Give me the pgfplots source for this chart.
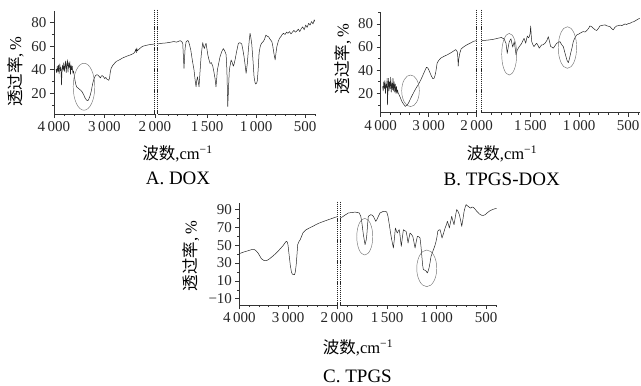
\documentclass[border=0pt]{standalone}
\usepackage{pgfplots}
\pgfplotsset{compat=1.18}
\usepackage{pgfplotstable}
\usepackage{fontspec}
\setmainfont{Liberation Serif}
\newfontfamily\cjk{Noto Sans CJK SC}

\pgfplotstableread{
w t
3960 40.5
3948 37.5
3935 43
3922 38
3910 44
3898 36.5
3885 45
3872 39
3862 42
3852 27
3842 38
3830 44
3818 39.5
3806 46
3794 38.5
3782 43
3770 47.5
3758 37.5
3746 44
3734 48.5
3722 38
3710 46
3698 42
3686 47
3674 36
3662 44
3650 40
3638 43
3626 37
3614 39
3600 35.5
3585 31
3565 27
3545 25
3523 24.4
3500 23.5
3470 22.5
3440 21
3410 18.5
3380 15.5
3350 14
3330 13.6
3310 15
3285 18
3261 22
3235 28
3210 32
3185 34.5
3160 35.7
3131 35.5
3100 34
3080 33
3065 34.5
3045 35
3020 34
2995 32.5
2975 33.5
2954 32
2930 31.5
2915 31
2900 33
2885 38
2870 41
2840 43.5
2800 45.5
2770 47
2700 48.5
2641 50
2560 51.5
2477 52.8
2420 54
2395 55.6
2380 57.5
2370 54.5
2360 58.5
2350 56
2330 57
2290 58.5
2249 59.9
2180 60.7
2118 61.3
2060 61.6
2000 62
1960 62.5
1920 62.8
1878 63.3
1840 64
1810 63.5
1776 64.7
1760 64.2
1748 62.5
1735 41.2
1724 58
1714 63.7
1700 64.8
1690 64.5
1678 61
1666 56.8
1650 48
1633 39.8
1620 30
1612 25.5
1605 31
1598 34
1590 30
1582 25.5
1572 38
1561 51
1552 58
1544 63
1536 60
1528 58
1518 61
1510 62.5
1502 58
1493 53
1482 49
1470 45.4
1456 46
1442 43
1430 38
1419 32.7
1409 25.5
1402 32
1395 39.8
1380 46
1368 51
1350 55.5
1334 58
1320 56
1306 53
1298 40
1289 8.5
1281 25
1273 39.8
1262 45
1255 48.3
1243 46
1232 43
1224 45
1215 48.3
1200 55
1181 62.5
1165 63
1147 62
1135 57
1123 51
1112 44
1102 36.9
1090 45
1079 56.8
1070 65
1062 71
1053 67
1044 61.4
1032 48
1021 34
1011 29
1003 27.8
995 28.5
987 31
978 42
970 54
960 59
952 61.4
940 63
926 64.2
914 66
901 69.5
887 68.5
874 68.1
858 66
840 64
832 61
824 56.8
815 52
806 48.3
798 54
789 59.6
775 64
762 66.7
745 68.5
735 70
721 71
705 70
690 72
675 71
660 72.5
645 70.5
630 72
615 73.5
600 72
585 73
570 74.5
555 72.5
540 75
525 76.5
510 74
495 78
480 76
465 79.5
450 78
435 81
420 79
408 82.5
400 81
}\dox

\pgfplotstableread{
w t
3960 26
3948 22
3936 30
3924 24
3912 31
3900 20
3888 28
3876 25
3866 33
3858 10
3850 24
3840 33
3828 22
3816 30
3804 24
3792 34
3780 21
3768 29
3756 23
3744 33
3732 22
3720 30
3708 21
3696 28
3684 20
3672 26
3660 20
3648 23
3635 20
3620 19
3588 16
3560 13
3530 11
3487 8.7
3450 9.8
3420 11.6
3370 16
3318 20.3
3270 24
3217 27.5
3160 32
3116 36.1
3080 39.5
3047 42.5
3020 42
3000 40.5
2970 37.5
2945 35
2913 32.6
2890 33
2870 35
2850 39
2824 46.2
2790 48.5
2742 50.6
2680 52
2608 53.4
2520 55.5
2438 57.8
2405 56
2395 52
2385 43.4
2375 49
2360 53
2350 55
2323 58.5
2260 60.5
2202 62
2130 63.5
2066 65
2000 65.6
1940 66
1881 66.7
1840 67.5
1800 68.3
1770 67
1751 63.3
1738 54.6
1726 61
1717 64.7
1700 67.2
1690 63
1682 60
1666 64.7
1655 58
1648 53.2
1635 57.5
1615 60.4
1600 62
1590 63.3
1575 66
1566 67.6
1549 63.3
1540 67
1532 69.6
1520 68
1512 69
1503 72
1498 78.3
1492 70
1487 64.7
1475 62
1464 60.4
1450 62
1436 63.3
1420 61
1410 59
1398 60.5
1385 61.9
1370 62
1351 63.3
1330 66
1317 69
1305 65
1293 60.4
1280 60
1266 59
1250 61
1231 63.3
1215 64
1197 64.7
1180 62
1163 60.4
1150 56
1136 51.7
1125 48.5
1112 46.5
1100 50
1088 54.6
1075 59
1061 64.7
1045 68
1026 70.5
1010 71
992 72
975 72.8
959 73.4
940 73
924 74.3
905 76
890 78.3
870 77.5
856 76.3
838 75
821 74.3
805 76
787 78.3
765 78.8
750 79
736 79.2
720 78.5
700 78
685 77.8
668 76
651 74.9
635 77
616 78.3
600 78.5
580 79
565 78.5
549 79.2
530 80
515 79.5
500 80.2
480 80.6
460 81.5
440 82
420 83
400 84
380 85
}\tpgsdox

\pgfplotstableread{
w t
4000 40.5
3900 42.5
3823 43.7
3750 45
3687 44.8
3650 43
3619 41.1
3580 37.5
3551 34.8
3500 32.8
3463 32.5
3420 33.3
3381 34.8
3310 38
3245 41.1
3170 45.5
3108 49.3
3060 53
3041 54.2
3020 53.5
3006 50.5
2980 38
2959 28
2935 20
2918 17.6
2890 17
2871 16.9
2855 20
2837 28
2820 40
2806 50.5
2780 54
2755 56
2725 60
2700 63.5
2660 66
2633 67.2
2560 69.3
2496 71
2430 73
2361 74.7
2300 76
2234 77.3
2130 79.3
2020 81.4
2000 81.6
1958 81
1925 83.5
1891 85.9
1850 86.5
1823 86.9
1800 86.5
1780 85.9
1765 82
1756 76.6
1739 61.6
1722 50.4
1710 56
1704 61.6
1695 75
1689 82.2
1665 84
1650 83.5
1638 82.2
1614 76.6
1600 79
1588 82.2
1571 85.9
1537 87.8
1515 87.5
1503 87
1490 82
1477 72.8
1465 64
1453 56
1436 46.7
1425 58
1416 69.1
1406 66
1396 63.5
1386 66
1376 67.2
1366 58
1356 48.6
1346 58
1335 67.2
1320 66
1308 65.4
1298 60
1288 52.3
1278 58
1268 63.5
1254 62
1240 59.7
1228 53
1217 46.7
1205 54
1194 59.7
1180 59.5
1167 57.9
1157 48
1147 35.5
1140 27
1133 22.5
1120 22
1109 21.4
1100 20
1093 18.8
1085 21
1076 24.4
1065 31
1056 37.4
1044 41
1032 44.8
1018 49
1005 54.2
995 60
988 65.4
975 67
965 67.2
955 63
945 57.9
930 63
914 69.1
900 73
891 76.6
880 73
871 69.1
860 75
847 82.2
835 77
824 72.8
810 82
797 89.8
785 88
770 84
758 78
746 71
735 78
722 87.8
710 93
702 95.2
690 94
679 93.3
668 92
655 91.4
642 92.5
628 92.2
610 90
594 87.8
570 85
544 83.3
525 83.3
510 84
490 86
460 88.5
430 90
409 90.7
395 91
}\tpgs

\pgfplotsset{
  seg/.style={scale only axis, clip=true, x dir=reverse, anchor=south west,
    axis x line*=bottom,
    axis line style={line width=0.6pt, black!80},
    tick style={black!80, line width=0.5pt},
    tick align=outside, major tick length=4pt, minor tick length=2.2pt,
    tick label style={font=\fontsize{15}{15}\selectfont, text=black!85},
    /pgf/number format/assume math mode=true},
  lseg/.style={seg, axis y line*=left, xmin=2000, xmax=4000,
    xtick={4000,3000,2000}, xticklabels={4\,000,3\,000,2\,000},
    minor xtick={2200,2400,2600,2800,3200,3400,3600,3800}},
  rseg/.style={seg, axis y line=none, xmax=2000,
    xtick={1500,1000,500}, xticklabels={1\,500,1\,000,500},
    minor xtick={400,500,...,1900}},
  spec/.style={black!85, line width=0.5pt, no marks, line join=round},
}
\tikzset{brk/.style={black!85, line width=0.6pt, dash pattern=on 1.2pt off 0.9pt},
  ell/.style={black!55, line width=0.45pt}}

\begin{document}
\begin{tikzpicture}
\useasboundingbox (0pt,0pt) rectangle (641pt,-386pt);

% ---------------- A. DOX ----------------
\begin{axis}[lseg, at={(54pt,-114pt)}, width=101pt, height=103pt,
  ymin=2.3, ymax=90, ytick={20,40,60,80}, minor ytick={10,30,50,70}]
  \addplot[spec] table[x=w,y=t] {\dox};
  \draw[ell] (axis cs:3406,25.5) ellipse [x radius=10.8pt, y radius=23.5pt];
\end{axis}
\begin{axis}[rseg, at={(158pt,-114pt)}, width=157pt, height=103pt,
  xmin=400, ymin=2.3, ymax=90]
  \addplot[spec] table[x=w,y=t] {\dox};
\end{axis}
\draw[brk] (154.3pt,-9.5pt) -- (154.3pt,-114pt);
\draw[brk] (157.6pt,-9.5pt) -- (157.6pt,-114pt);
\node[rotate=90, font=\fontsize{16.5}{16.5}\selectfont] at (15.5pt,-71.5pt) {{\cjk 透过率},\,\%};
\node[anchor=base, font=\fontsize{16.5}{16.5}\selectfont] at (177.5pt,-159.5pt) {{\cjk 波数},cm\textsuperscript{−1}};
\node[anchor=base, font=\fontsize{19}{19}\selectfont] at (178pt,-184.3pt) {A. DOX};

% ---------------- B. TPGS-DOX ----------------
\begin{axis}[lseg, at={(380.7pt,-112.7pt)}, width=96pt, height=101pt,
  ymin=3.2, ymax=90.6, ytick={20,40,60,80}, minor ytick={10,30,50,70,90}]
  \addplot[spec] table[x=w,y=t] {\tpgsdox};
  \draw[ell] (axis cs:3379,22.15) ellipse [x radius=8.8pt, y radius=15.8pt];
\end{axis}
\begin{axis}[rseg, at={(481.7pt,-112.7pt)}, width=158.3pt, height=101pt,
  xmin=377, ymin=3.2, ymax=90.6]
  \addplot[spec] table[x=w,y=t] {\tpgsdox};
  \draw[ell] (axis cs:1718,53.8) ellipse [x radius=7.5pt, y radius=20.8pt];
  \draw[ell] (axis cs:1121,59.6) ellipse [x radius=9.2pt, y radius=20.8pt];
\end{axis}
\draw[brk] (476.7pt,-9.5pt) -- (476.7pt,-112.7pt);
\draw[brk] (481.2pt,-9.5pt) -- (481.2pt,-112.7pt);
\node[rotate=90, font=\fontsize{16.5}{16.5}\selectfont] at (343pt,-59pt) {{\cjk 透过率},\,\%};
\node[anchor=base, font=\fontsize{16.5}{16.5}\selectfont] at (502pt,-159.5pt) {{\cjk 波数},cm\textsuperscript{−1}};
\node[anchor=base, font=\fontsize{19}{19}\selectfont] at (501.7pt,-185pt) {B. TPGS-DOX};

% ---------------- C. TPGS ----------------
\begin{axis}[lseg, at={(239.5pt,-305pt)}, width=97.5pt, height=102.3pt,
  ymin=-17, ymax=97.4, ytick={-10,10,30,50,70,90},
  yticklabels={−10,10,30,50,70,90}, minor ytick={0,20,40,60,80}]
  \addplot[spec] table[x=w,y=t] {\tpgs};
\end{axis}
\begin{axis}[rseg, at={(340pt,-305pt)}, width=157pt, height=102.3pt,
  xmin=390, xmax=1975, ymin=-17, ymax=97.4]
  \addplot[spec] table[x=w,y=t] {\tpgs};
  \draw[ell] (axis cs:1725,59.4) ellipse [x radius=8pt, y radius=18.3pt];
  \draw[ell] (axis cs:1099,24) ellipse [x radius=10pt, y radius=18.3pt];
\end{axis}
\draw[brk] (336.8pt,-201.5pt) -- (336.8pt,-305pt);
\draw[brk] (340pt,-201.5pt) -- (340pt,-305pt);
\node[rotate=90, font=\fontsize{16.5}{16.5}\selectfont] at (191pt,-256pt) {{\cjk 透过率},\,\%};
\node[anchor=base, font=\fontsize{16.5}{16.5}\selectfont] at (358pt,-353.3pt) {{\cjk 波数},cm\textsuperscript{−1}};
\node[anchor=base, font=\fontsize{19}{19}\selectfont] at (357.5pt,-382.5pt) {C. TPGS};
\end{tikzpicture}
\end{document}
